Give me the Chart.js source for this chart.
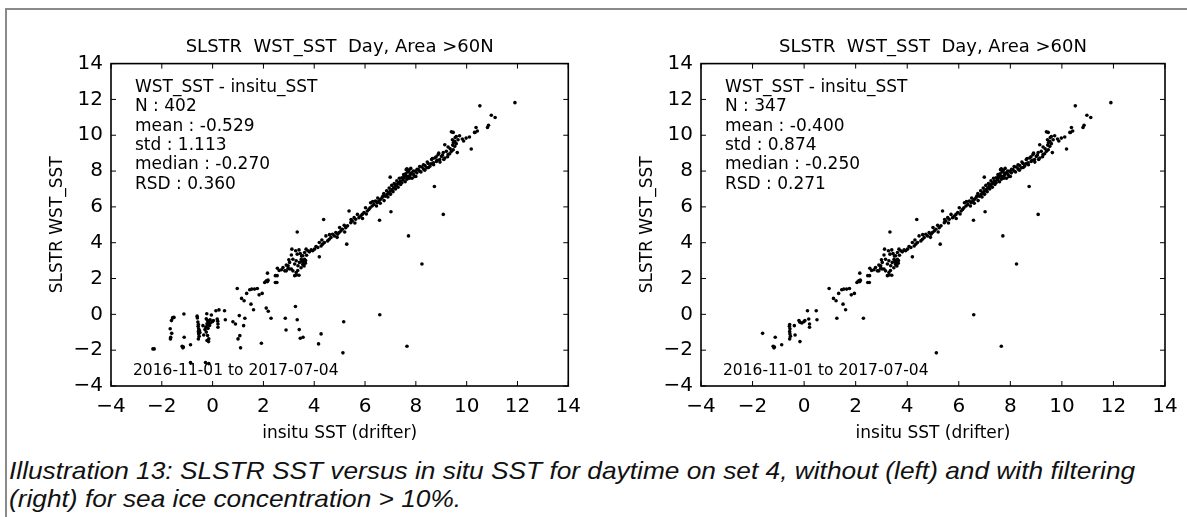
<!DOCTYPE html>
<html>
<head>
<meta charset="utf-8">
<script src="https://cdn.jsdelivr.net/npm/chart.js@4.4.1/dist/chart.umd.min.js"></script>
<style>
  html, body { margin: 0; padding: 0; background: #fff; }
  #page { position: relative; width: 1187px; height: 517px; overflow: hidden; background: #fff; }
  #frame { position: absolute; left: 5px; top: 8px; width: 1300px; height: 600px;
           border-top: 2px solid #8a8a8a; border-left: 2px solid #8a8a8a; }
  .plot { position: absolute; top: 0; }
  #caption { position: absolute; left: 9px; top: 457px; font-family: "Liberation Sans", Arial, sans-serif;
             font-style: italic; font-size: 24px; line-height: 28px; color: #111; white-space: nowrap;
             transform: scaleX(1.095); transform-origin: 0 0; }
</style>
</head>
<body>
<div id="page">
  <div id="frame"></div>
  <canvas id="leftChart" class="plot" style="left:0px" width="590" height="450"></canvas>
  <canvas id="rightChart" class="plot" style="left:590px" width="597" height="450"></canvas>
  <div id="caption">Illustration 13: SLSTR SST versus in situ SST for daytime on set 4, without (left) and with filtering<br>(right) for sea ice concentration &gt; 10%.</div>
</div>
<script>
// titles and axis text
const chartTitle = 'SLSTR  WST_SST  Day, Area >60N';
const xTitle = 'insitu SST (drifter)';
const yTitle = 'SLSTR WST_SST';
const period = '2016-11-01 to 2017-07-04';
const leftStats = ['WST_SST - insitu_SST', 'N : 402', 'mean : -0.529', 'std : 1.113', 'median : -0.270', 'RSD : 0.360'];
const rightStats = ['WST_SST - insitu_SST', 'N : 347', 'mean : -0.400', 'std : 0.874', 'median : -0.250', 'RSD : 0.271'];

// axis ticks (same on both axes)
const tickValues = [-4, -2, 0, 2, 4, 6, 8, 10, 12, 14];
const tickLabels = ['\u22124', '\u22122', '0', '2', '4', '6', '8', '10', '12', '14'];

// matchups kept after the sea ice filter [insitu, WST]
const openWaterPts = [
  [-1.61,-1.06],[-1.12,-1.28],[-1.2,-1.78],[-1.17,-1.87],[-1.15,-1.82],[-0.87,-1.7],
  [-0.56,-0.57],[-0.57,-0.67],[-0.55,-0.81],[-0.56,-0.96],[-0.55,-1.09],[-0.53,-1.22],[-0.56,-1.37],
  [-0.38,-0.63],[-0.35,-1.15],[-0.2,-0.35],[-0.16,-0.44],[-0.09,-0.48],[-0.01,-0.41],[0.03,-0.35],[-0.16,-1.52],
  [0.13,0.2],[0.18,-0.26],[0.21,-0.54],[0.21,-0.72],[0.47,0.2],[0.5,-0.3],
  [0.97,1.44],[1.14,0.89],[1.24,0.76],[1.27,-0.22],[1.34,1.17],[1.46,1.37],[1.54,1.41],[1.65,1.41],[1.76,1.44],
  [1.51,0.57],[1.61,0.26],[1.83,1.09],[1.95,1.17],
  [2.05,1.78],[2.1,1.85],[2.13,1.87],[2.16,1.83],[2.18,1.91],[2.16,2.3],[2.3,-0.22],[2.47,1.78],[2.53,1.78],[2.47,2.16],[2.54,2.16],
  [2.55,2.57],[2.62,2.45],[2.71,2.49],[2.77,2.62],[2.84,2.43],[2.9,2.75],[2.97,2.57],[3.03,2.9],[3.1,2.53],[3.16,2.43],
  [3.23,2.16],[3.29,2.34],[3.1,3.31],[3.12,3.64],[3.3,2.2],[3.4,2.18],[3.36,2.71],[3.42,2.9],[3.49,3.08],[3.55,3.27],
  [3.62,3.45],[3.68,3.64],[3.75,3.55],[3.81,3.49],[3.88,3.6],[3.94,3.55],[4.01,3.64],[3.33,3.36],[3.29,2.99],[3.23,2.81],
  [3.16,3.08],[3.03,2.53],[2.97,2.71],[2.9,2.43],[3.55,2.8],[3.58,2.9],[3.6,2.98],[3.62,3.07],[3.57,2.75],[3.65,2.85],
  [3.52,3.0],[3.6,2.7],[3.5,3.26],[3.45,3.4],[3.7,3.3],[3.63,2.92],[3.66,3.0],[3.54,2.95],[3.48,2.6],[3.4,3.6],
  [3.27,3.55],[3.0,3.05],[3.35,2.45],[4.2,3.21],[3.33,4.6],
  [4.07,3.79],[4.14,3.73],[4.2,4.01],[4.27,3.82],[4.33,3.92],[4.4,4.01],[4.46,4.38],[4.53,4.1],[4.59,4.19],[4.66,4.29],
  [4.72,4.47],[4.79,4.38],[4.85,4.57],[4.92,4.47],[4.98,4.57],[5.05,4.66],[5.11,4.75],[5.18,4.97],[5.24,4.84],[5.31,4.94],
  [5.37,5.77],[5.44,5.12],[5.5,5.21],[5.57,5.4],[5.63,5.31],[5.7,5.58],[5.76,5.4],[5.83,5.49],[5.89,5.58],[5.96,5.68],
  [6.02,5.95],[6.09,5.77],[6.15,5.86],[6.22,6.23],[6.28,6.05],[6.35,6.14],[6.41,6.32],[6.48,6.23],[6.54,6.32],[6.61,6.42],
  [6.67,6.51],[6.74,6.75],[6.8,6.6],[6.87,6.7],[6.93,6.79],[6.99,6.88],[7.06,6.97],[7.13,7.07],[7.19,7.16],[7.26,7.25],
  [7.32,7.34],[7.39,7.44],[7.45,7.62],[7.52,7.8],[7.62,8.08],
  [4.3,4.15],[4.6,4.45],[4.9,4.3],[5.0,4.85],[5.2,4.6],[5.45,5.3],[5.6,5.1],[5.9,5.35],[6.05,5.6],[6.2,5.95],
  [6.3,6.3],[6.45,6.05],[6.5,6.5],[6.6,6.2],[6.7,6.6],[6.75,6.35],[6.85,6.9],[6.9,6.55],[6.95,7.05],[7.0,6.7],
  [7.05,7.2],[7.1,6.85],[7.15,7.3],[7.2,7.0],[7.25,7.45],[7.3,7.1],[7.35,7.6],[7.4,7.25],[7.45,7.35],[7.5,7.5],
  [7.55,7.65],[7.58,7.4],[7.6,7.85],[7.65,7.55],[7.68,7.95],[7.7,7.7],[7.72,8.05],[7.75,7.6],[7.78,7.85],
  [4.37,5.3],[5.28,3.92],[6.57,5.25],[7.02,5.73],[6.99,7.66],[7.71,4.38],[8.73,7.14],[9.08,5.58],[8.24,2.81],
  [6.58,-0.02],[7.65,-1.78],[5.13,-2.15],
  [9.47,10.16],[9.59,9.93],[9.66,9.75],[9.53,9.66],[9.59,9.53],[9.72,9.97],[9.83,9.79],[9.88,9.68],[9.98,9.84],[10.11,9.9],
  [10.18,9.23],[10.31,10.16],[9.53,9.38],[9.47,9.19],[9.4,9.1],[9.33,8.97],[9.27,8.92],[9.14,8.73],[9.08,9.04],[9.01,8.82],
  [8.94,8.64],[8.88,8.92],[8.81,8.54],[8.75,8.73],[8.69,8.46],[8.62,8.64],[8.55,8.27],[8.49,8.42],[8.43,8.18],[8.36,8.31],
  [8.3,8.12],[8.23,8.23],[8.16,7.99],[8.1,8.08],[8.04,7.9],[7.97,7.99],[7.91,7.81],[7.84,7.9],[7.77,7.75],[7.71,7.99],
  [7.65,8.12],[7.65,7.71],[7.58,7.81],[7.52,7.62],[9.14,9.47],[9.27,9.34],[9.44,9.75],
  [10.52,11.64],[10.97,11.12],[11.12,10.99],[10.86,10.56],[10.82,10.43],[10.37,10.43],[10.42,10.24],[10.33,10.15],
  [11.9,11.82],[9.4,10.19],[9.55,9.87],[9.63,9.03],[9.48,9.59],
  [8.0,7.7],[8.05,8.1],[8.15,8.25],[8.2,7.95],[8.3,8.35],[8.35,8.05],[8.45,8.5],[8.5,8.2],[8.6,8.4],[8.65,8.7],
  [8.7,8.35],[8.8,8.8],[8.85,8.6],[8.9,9.0],[8.95,8.5],[9.05,8.9],[9.1,8.65],[9.2,9.1],[9.25,8.8],[9.35,9.25],
  [9.45,9.45],[7.8,8.15],[7.85,7.6],[7.9,8.0],[7.95,7.7]
];

// matchups removed by the sea ice concentration > 10% filter
const icePts = [
  [-2.35,-1.93],[-2.3,-1.93],[-1.65,-1.28],[-1.66,-1.37],[-1.67,-0.8],[-1.62,-0.35],[-1.58,-0.21],[-1.52,-0.17],
  [-1.56,-0.18],[-1.13,0.02],
  [-0.61,-0.1],[-0.58,-0.43],[-0.52,-0.9],[-0.5,-1.02],[-0.6,-0.2],
  [-0.23,0.03],[-0.25,-0.25],[-0.2,-0.6],[-0.22,-0.53],[-0.27,-0.71],[-0.25,-0.99],[-0.2,-1.18],[-0.22,-1.46],
  [-0.15,-1.36],[-0.12,-0.62],[-0.1,-0.3],[-0.05,-0.04],[-0.3,-0.85],[-0.18,-0.78],[0.2,-0.38],[0.25,0.25],
  [0.8,-0.41],[0.9,-0.54],[1.05,-0.07],[1.0,-1.37],[1.07,-1.19],[1.1,-1.87],[1.22,-0.63],[1.92,-1.61],
  [2.11,0.35],[2.19,0.17],[2.86,-0.22],[2.89,-0.87],[3.26,0.44],[3.33,-0.3],[3.41,-0.85],[3.45,-1.33],
  [3.56,-1.28],[4.27,-1.09],[4.17,-1.65],[5.16,-0.41],[-0.87,-2.69],[-0.28,-2.69],[-0.15,-2.75]
];

const fontFamily = '"DejaVu Sans", sans-serif';

// box with inward ticks on all four sides, like the old matplotlib style
const frameTicks = {
  id: 'frameTicks',
  afterDatasetsDraw(chart) {
    const { ctx, chartArea: a, scales: { x, y } } = chart;
    ctx.save();
    ctx.strokeStyle = '#000';
    ctx.lineWidth = 1;
    tickValues.forEach(v => {
      const px = x.getPixelForValue(v);
      const py = y.getPixelForValue(v);
      ctx.beginPath();
      ctx.moveTo(px, a.bottom); ctx.lineTo(px, a.bottom - 5);
      ctx.moveTo(px, a.top); ctx.lineTo(px, a.top + 5);
      ctx.moveTo(a.left, py); ctx.lineTo(a.left + 5, py);
      ctx.moveTo(a.right, py); ctx.lineTo(a.right - 5, py);
      ctx.stroke();
    });
    ctx.lineWidth = 1.6;
    ctx.strokeRect(a.left, a.top, a.right - a.left, a.bottom - a.top);
    ctx.restore();
  }
};

// statistics text in the upper left and the date range at the bottom
const statsText = {
  id: 'statsText',
  afterDraw(chart, args, opts) {
    const { ctx, chartArea: a } = chart;
    ctx.save();
    ctx.fillStyle = '#000';
    ctx.textBaseline = 'middle';
    ctx.font = '17px ' + fontFamily;
    opts.lines.forEach((t, i) => ctx.fillText(t, a.left + 24, a.top + 24 + i * 19.3));
    ctx.font = '15.5px ' + fontFamily;
    ctx.fillText(period, a.left + 22, a.bottom - 15);
    ctx.restore();
  }
};

function makeChart(id, sets, stats, padRight) {
  return new Chart(document.getElementById(id), {
    type: 'scatter',
    data: {
      datasets: sets.map(pts => ({
        data: pts.map(p => ({ x: p[0], y: p[1] })),
        pointRadius: 1.8,
        pointBackgroundColor: '#000',
        pointBorderWidth: 0,
        pointHoverRadius: 1.8
      }))
    },
    options: {
      responsive: false,
      animation: false,
      devicePixelRatio: 1,
      layout: { padding: { left: 0, right: padRight, top: 0, bottom: 0 } },
      plugins: {
        legend: { display: false },
        tooltip: { enabled: false },
        title: {
          display: true, text: chartTitle, fullSize: false, color: '#000',
          font: { family: fontFamily, size: 18, weight: 'normal' },
          padding: { top: 37, bottom: 5 }
        },
        statsText: { lines: stats }
      },
      scales: {
        x: {
          type: 'linear', min: -4, max: 14,
          afterBuildTicks: s => { s.ticks = tickValues.map(v => ({ value: v })); },
          afterFit: s => { s.height = 64; },
          grid: { display: false, drawTicks: false },
          border: { display: false },
          ticks: {
            autoSkip: false, maxRotation: 0, padding: 9, color: '#000',
            font: { family: fontFamily, size: 20 },
            callback: (v, i) => tickLabels[i]
          },
          title: {
            display: true, text: xTitle, color: '#000',
            font: { family: fontFamily, size: 17 },
            padding: { top: 0, bottom: 6 }
          }
        },
        y: {
          type: 'linear', min: -4, max: 14,
          afterBuildTicks: s => { s.ticks = tickValues.map(v => ({ value: v })); },
          afterFit: s => { s.width = 111; },
          grid: { display: false, drawTicks: false },
          border: { display: false },
          ticks: {
            autoSkip: false, padding: 8, color: '#000',
            font: { family: fontFamily, size: 20 },
            callback: (v, i) => tickLabels[i]
          },
          title: {
            display: true, text: yTitle, color: '#000',
            font: { family: fontFamily, size: 17 },
            padding: { top: 47, bottom: 0 }
          }
        }
      }
    },
    plugins: [frameTicks, statsText]
  });
}

makeChart('leftChart', [openWaterPts, icePts], leftStats, 16);
makeChart('rightChart', [openWaterPts], rightStats, 22);
</script>
</body>
</html>
